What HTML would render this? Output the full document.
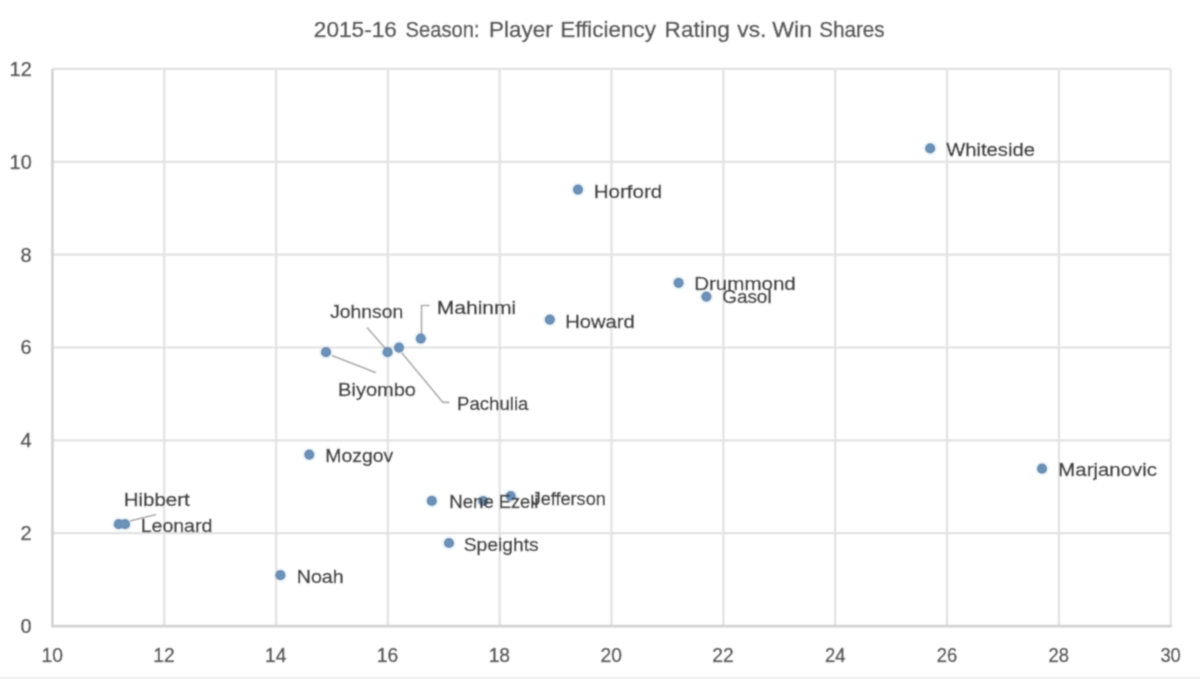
<!DOCTYPE html>
<html><head><meta charset="utf-8"><title>2015-16 Season: Player Efficiency Rating vs. Win Shares</title>
<style>
html,body{margin:0;padding:0;background:#fff;}
body{width:1200px;height:679px;overflow:hidden;}
svg{display:block;font-family:"Liberation Sans",Arial,sans-serif;}
</style></head><body>
<svg width="1200" height="679" viewBox="0 0 1200 679">
<defs><filter id="b" x="0" y="0" width="1200" height="679" filterUnits="userSpaceOnUse"><feConvolveMatrix order="3" kernelMatrix="1 3 1 3 8 3 1 3 1" edgeMode="duplicate"/></filter></defs>
<g filter="url(#b)">
<rect x="0" y="0" width="1200" height="679" fill="#ffffff"/>
<rect x="0" y="676.5" width="1200" height="2.5" fill="#f4f4f4"/>
<circle cx="930.2" cy="148.4" r="7.2" fill="#eef7fb"/>
<circle cx="578" cy="189.6" r="7.2" fill="#eef7fb"/>
<circle cx="678.6" cy="282.8" r="7.2" fill="#eef7fb"/>
<circle cx="706.4" cy="296.6" r="7.2" fill="#eef7fb"/>
<circle cx="549.8" cy="319.6" r="7.2" fill="#eef7fb"/>
<circle cx="420.8" cy="338.6" r="7.2" fill="#eef7fb"/>
<circle cx="399" cy="347.6" r="7.2" fill="#eef7fb"/>
<circle cx="387.6" cy="352.2" r="7.2" fill="#eef7fb"/>
<circle cx="326" cy="352.2" r="7.2" fill="#eef7fb"/>
<circle cx="309.3" cy="454.6" r="7.2" fill="#eef7fb"/>
<circle cx="1042" cy="468.7" r="7.2" fill="#eef7fb"/>
<circle cx="510.7" cy="496" r="7.2" fill="#eef7fb"/>
<circle cx="431.8" cy="500.9" r="7.2" fill="#eef7fb"/>
<circle cx="483.2" cy="501" r="7.2" fill="#eef7fb"/>
<circle cx="118.8" cy="524.2" r="7.2" fill="#eef7fb"/>
<circle cx="125" cy="524.2" r="7.2" fill="#eef7fb"/>
<circle cx="449" cy="543" r="7.2" fill="#eef7fb"/>
<circle cx="280.4" cy="575.2" r="7.2" fill="#eef7fb"/>
<line x1="164.2" y1="68.9" x2="164.2" y2="626.1" stroke="#e2e2e2" stroke-width="2.2"/>
<line x1="276.1" y1="68.9" x2="276.1" y2="626.1" stroke="#e2e2e2" stroke-width="2.2"/>
<line x1="387.9" y1="68.9" x2="387.9" y2="626.1" stroke="#e2e2e2" stroke-width="2.2"/>
<line x1="499.7" y1="68.9" x2="499.7" y2="626.1" stroke="#e2e2e2" stroke-width="2.2"/>
<line x1="611.5" y1="68.9" x2="611.5" y2="626.1" stroke="#e2e2e2" stroke-width="2.2"/>
<line x1="723.4" y1="68.9" x2="723.4" y2="626.1" stroke="#e2e2e2" stroke-width="2.2"/>
<line x1="835.2" y1="68.9" x2="835.2" y2="626.1" stroke="#e2e2e2" stroke-width="2.2"/>
<line x1="947.0" y1="68.9" x2="947.0" y2="626.1" stroke="#e2e2e2" stroke-width="2.2"/>
<line x1="1058.9" y1="68.9" x2="1058.9" y2="626.1" stroke="#e2e2e2" stroke-width="2.2"/>
<line x1="1170.7" y1="68.9" x2="1170.7" y2="626.1" stroke="#e2e2e2" stroke-width="2.2"/>
<line x1="52.4" y1="533.2" x2="1170.7" y2="533.2" stroke="#e2e2e2" stroke-width="2.2"/>
<line x1="52.4" y1="440.4" x2="1170.7" y2="440.4" stroke="#e2e2e2" stroke-width="2.2"/>
<line x1="52.4" y1="347.5" x2="1170.7" y2="347.5" stroke="#e2e2e2" stroke-width="2.2"/>
<line x1="52.4" y1="254.6" x2="1170.7" y2="254.6" stroke="#e2e2e2" stroke-width="2.2"/>
<line x1="52.4" y1="161.8" x2="1170.7" y2="161.8" stroke="#e2e2e2" stroke-width="2.2"/>
<line x1="52.4" y1="68.9" x2="1170.7" y2="68.9" stroke="#e2e2e2" stroke-width="2.2"/>
<line x1="52.4" y1="68.9" x2="52.4" y2="626.1" stroke="#d2d2d2" stroke-width="2.6"/>
<line x1="51.1" y1="626.1" x2="1171.8" y2="626.1" stroke="#d2d2d2" stroke-width="2.6"/>
<path d="M332,355.6 L376,372.7" fill="none" stroke="#a6a6a6" stroke-width="1.6"/>
<path d="M367,327.5 L385,348" fill="none" stroke="#a6a6a6" stroke-width="1.6"/>
<path d="M401.7,352.8 L443,402.4 L449.4,402.4" fill="none" stroke="#a6a6a6" stroke-width="1.6"/>
<path d="M421.5,334 L421.5,305.5 L429.5,305.5" fill="none" stroke="#a6a6a6" stroke-width="1.6"/>
<path d="M130,521 L156,514.5" fill="none" stroke="#a6a6a6" stroke-width="1.6"/>
<circle cx="930.2" cy="148.4" r="5.1" fill="#5a7ea6"/>
<circle cx="578" cy="189.6" r="5.1" fill="#5a7ea6"/>
<circle cx="678.6" cy="282.8" r="5.1" fill="#5a7ea6"/>
<circle cx="706.4" cy="296.6" r="5.1" fill="#5a7ea6"/>
<circle cx="549.8" cy="319.6" r="5.1" fill="#5a7ea6"/>
<circle cx="420.8" cy="338.6" r="5.1" fill="#5a7ea6"/>
<circle cx="399" cy="347.6" r="5.1" fill="#5a7ea6"/>
<circle cx="387.6" cy="352.2" r="5.1" fill="#5a7ea6"/>
<circle cx="326" cy="352.2" r="5.1" fill="#5a7ea6"/>
<circle cx="309.3" cy="454.6" r="5.1" fill="#5a7ea6"/>
<circle cx="1042" cy="468.7" r="5.1" fill="#5a7ea6"/>
<circle cx="510.7" cy="496" r="5.1" fill="#5a7ea6"/>
<circle cx="431.8" cy="500.9" r="5.1" fill="#5a7ea6"/>
<circle cx="483.2" cy="501" r="5.1" fill="#5a7ea6"/>
<circle cx="118.8" cy="524.2" r="5.1" fill="#5a7ea6"/>
<circle cx="125" cy="524.2" r="5.1" fill="#5a7ea6"/>
<circle cx="449" cy="543" r="5.1" fill="#5a7ea6"/>
<circle cx="280.4" cy="575.2" r="5.1" fill="#5a7ea6"/>
<circle cx="930.2" cy="148.4" r="4.1" fill="#6d92ba"/>
<circle cx="578" cy="189.6" r="4.1" fill="#6d92ba"/>
<circle cx="678.6" cy="282.8" r="4.1" fill="#6d92ba"/>
<circle cx="706.4" cy="296.6" r="4.1" fill="#6d92ba"/>
<circle cx="549.8" cy="319.6" r="4.1" fill="#6d92ba"/>
<circle cx="420.8" cy="338.6" r="4.1" fill="#6d92ba"/>
<circle cx="399" cy="347.6" r="4.1" fill="#6d92ba"/>
<circle cx="387.6" cy="352.2" r="4.1" fill="#6d92ba"/>
<circle cx="326" cy="352.2" r="4.1" fill="#6d92ba"/>
<circle cx="309.3" cy="454.6" r="4.1" fill="#6d92ba"/>
<circle cx="1042" cy="468.7" r="4.1" fill="#6d92ba"/>
<circle cx="510.7" cy="496" r="4.1" fill="#6d92ba"/>
<circle cx="431.8" cy="500.9" r="4.1" fill="#6d92ba"/>
<circle cx="483.2" cy="501" r="4.1" fill="#6d92ba"/>
<circle cx="118.8" cy="524.2" r="4.1" fill="#6d92ba"/>
<circle cx="125" cy="524.2" r="4.1" fill="#6d92ba"/>
<circle cx="449" cy="543" r="4.1" fill="#6d92ba"/>
<circle cx="280.4" cy="575.2" r="4.1" fill="#6d92ba"/>
<text x="313.80" y="36.5" font-size="22.8" fill="#595959" stroke="#595959" stroke-width="0.5" textLength="83.10" lengthAdjust="spacingAndGlyphs">2015-16</text>
<text x="405.60" y="36.5" font-size="22.8" fill="#595959" stroke="#595959" stroke-width="0.5" textLength="74.10" lengthAdjust="spacingAndGlyphs">Season:</text>
<text x="489.10" y="36.5" font-size="22.8" fill="#595959" stroke="#595959" stroke-width="0.5" textLength="63.60" lengthAdjust="spacingAndGlyphs">Player</text>
<text x="560.30" y="36.5" font-size="22.8" fill="#595959" stroke="#595959" stroke-width="0.5" textLength="95.60" lengthAdjust="spacingAndGlyphs">Efficiency</text>
<text x="664.60" y="36.5" font-size="22.8" fill="#595959" stroke="#595959" stroke-width="0.5" textLength="65.20" lengthAdjust="spacingAndGlyphs">Rating</text>
<text x="737.30" y="36.5" font-size="22.8" fill="#595959" stroke="#595959" stroke-width="0.5" textLength="29.00" lengthAdjust="spacingAndGlyphs">vs.</text>
<text x="772.20" y="36.5" font-size="22.8" fill="#595959" stroke="#595959" stroke-width="0.5" textLength="39.80" lengthAdjust="spacingAndGlyphs">Win</text>
<text x="819.20" y="36.5" font-size="22.8" fill="#595959" stroke="#595959" stroke-width="0.5" textLength="65.50" lengthAdjust="spacingAndGlyphs">Shares</text>
<text x="946.20" y="155.6" font-size="18" fill="#404040" stroke="#404040" stroke-width="0.4" textLength="88.70" lengthAdjust="spacingAndGlyphs">Whiteside</text>
<text x="593.70" y="198.3" font-size="18" fill="#404040" stroke="#404040" stroke-width="0.4" textLength="68.60" lengthAdjust="spacingAndGlyphs">Horford</text>
<text x="694.20" y="289.7" font-size="18" fill="#404040" stroke="#404040" stroke-width="0.4" textLength="101.60" lengthAdjust="spacingAndGlyphs">Drummond</text>
<text x="722.20" y="303.3" font-size="18" fill="#404040" stroke="#404040" stroke-width="0.4" textLength="49.40" lengthAdjust="spacingAndGlyphs">Gasol</text>
<text x="565.20" y="327.8" font-size="18" fill="#404040" stroke="#404040" stroke-width="0.4" textLength="69.60" lengthAdjust="spacingAndGlyphs">Howard</text>
<text x="330.20" y="318.3" font-size="18" fill="#404040" stroke="#404040" stroke-width="0.4" textLength="73.10" lengthAdjust="spacingAndGlyphs">Johnson</text>
<text x="436.70" y="313.8" font-size="18" fill="#404040" stroke="#404040" stroke-width="0.4" textLength="79.60" lengthAdjust="spacingAndGlyphs">Mahinmi</text>
<text x="338.10" y="396.3" font-size="18" fill="#404040" stroke="#404040" stroke-width="0.4" textLength="77.90" lengthAdjust="spacingAndGlyphs">Biyombo</text>
<text x="457.00" y="410.0" font-size="18" fill="#404040" stroke="#404040" stroke-width="0.4" textLength="71.40" lengthAdjust="spacingAndGlyphs">Pachulia</text>
<text x="325.20" y="462.3" font-size="18" fill="#404040" stroke="#404040" stroke-width="0.4" textLength="68.10" lengthAdjust="spacingAndGlyphs">Mozgov</text>
<text x="449.30" y="508.0" font-size="18" fill="#404040" stroke="#404040" stroke-width="0.4" textLength="44.50" lengthAdjust="spacingAndGlyphs">Nene</text>
<text x="498.80" y="508.0" font-size="18" fill="#404040" stroke="#404040" stroke-width="0.4" textLength="39.50" lengthAdjust="spacingAndGlyphs">Ezeli</text>
<text x="531.70" y="505.0" font-size="18" fill="#404040" stroke="#404040" stroke-width="0.4" textLength="74.10" lengthAdjust="spacingAndGlyphs">Jefferson</text>
<text x="463.70" y="550.8" font-size="18" fill="#404040" stroke="#404040" stroke-width="0.4" textLength="75.10" lengthAdjust="spacingAndGlyphs">Speights</text>
<text x="296.70" y="583.3" font-size="18" fill="#404040" stroke="#404040" stroke-width="0.4" textLength="47.00" lengthAdjust="spacingAndGlyphs">Noah</text>
<text x="123.70" y="506.3" font-size="18" fill="#404040" stroke="#404040" stroke-width="0.4" textLength="66.10" lengthAdjust="spacingAndGlyphs">Hibbert</text>
<text x="140.70" y="531.8" font-size="18" fill="#404040" stroke="#404040" stroke-width="0.4" textLength="71.60" lengthAdjust="spacingAndGlyphs">Leonard</text>
<text x="1058.30" y="476.0" font-size="18" fill="#404040" stroke="#404040" stroke-width="0.4" textLength="98.60" lengthAdjust="spacingAndGlyphs">Marjanovic</text>
<text x="20.60" y="633.0" font-size="19.3" fill="#595959" stroke="#595959" stroke-width="0.5" textLength="11.10" lengthAdjust="spacingAndGlyphs">0</text>
<text x="20.60" y="540.1" font-size="19.3" fill="#595959" stroke="#595959" stroke-width="0.5" textLength="11.10" lengthAdjust="spacingAndGlyphs">2</text>
<text x="20.60" y="447.3" font-size="19.3" fill="#595959" stroke="#595959" stroke-width="0.5" textLength="11.10" lengthAdjust="spacingAndGlyphs">4</text>
<text x="20.60" y="354.4" font-size="19.3" fill="#595959" stroke="#595959" stroke-width="0.5" textLength="11.10" lengthAdjust="spacingAndGlyphs">6</text>
<text x="20.60" y="261.5" font-size="19.3" fill="#595959" stroke="#595959" stroke-width="0.5" textLength="11.10" lengthAdjust="spacingAndGlyphs">8</text>
<text x="9.60" y="168.7" font-size="19.3" fill="#595959" stroke="#595959" stroke-width="0.5" textLength="22.10" lengthAdjust="spacingAndGlyphs">10</text>
<text x="9.60" y="75.8" font-size="19.3" fill="#595959" stroke="#595959" stroke-width="0.5" textLength="22.10" lengthAdjust="spacingAndGlyphs">12</text>
<text x="41.50" y="662.1" font-size="19.3" fill="#595959" stroke="#595959" stroke-width="0.5" textLength="21.40" lengthAdjust="spacingAndGlyphs">10</text>
<text x="153.29" y="662.1" font-size="19.3" fill="#595959" stroke="#595959" stroke-width="0.5" textLength="21.40" lengthAdjust="spacingAndGlyphs">12</text>
<text x="265.08" y="662.1" font-size="19.3" fill="#595959" stroke="#595959" stroke-width="0.5" textLength="21.40" lengthAdjust="spacingAndGlyphs">14</text>
<text x="376.87" y="662.1" font-size="19.3" fill="#595959" stroke="#595959" stroke-width="0.5" textLength="21.40" lengthAdjust="spacingAndGlyphs">16</text>
<text x="488.66" y="662.1" font-size="19.3" fill="#595959" stroke="#595959" stroke-width="0.5" textLength="21.40" lengthAdjust="spacingAndGlyphs">18</text>
<text x="600.45" y="662.1" font-size="19.3" fill="#595959" stroke="#595959" stroke-width="0.5" textLength="21.40" lengthAdjust="spacingAndGlyphs">20</text>
<text x="712.24" y="662.1" font-size="19.3" fill="#595959" stroke="#595959" stroke-width="0.5" textLength="21.40" lengthAdjust="spacingAndGlyphs">22</text>
<text x="825.03" y="662.1" font-size="19.3" fill="#595959" stroke="#595959" stroke-width="0.5" textLength="20.40" lengthAdjust="spacingAndGlyphs">24</text>
<text x="936.82" y="662.1" font-size="19.3" fill="#595959" stroke="#595959" stroke-width="0.5" textLength="20.40" lengthAdjust="spacingAndGlyphs">26</text>
<text x="1048.61" y="662.1" font-size="19.3" fill="#595959" stroke="#595959" stroke-width="0.5" textLength="20.40" lengthAdjust="spacingAndGlyphs">28</text>
<text x="1160.40" y="662.1" font-size="19.3" fill="#595959" stroke="#595959" stroke-width="0.5" textLength="20.40" lengthAdjust="spacingAndGlyphs">30</text>
</g>
</svg>
</body></html>
